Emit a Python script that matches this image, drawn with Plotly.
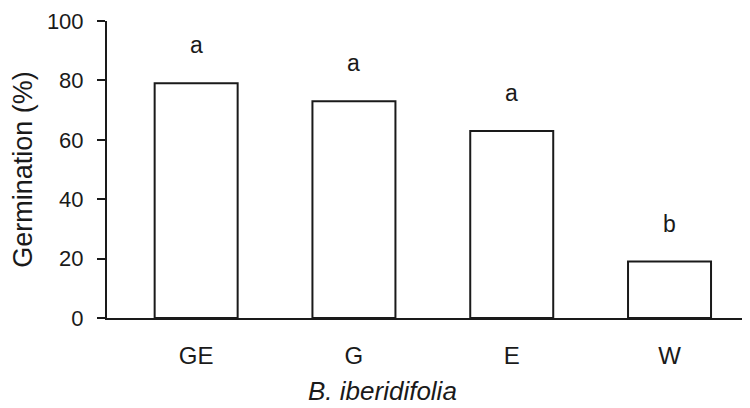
import plotly.graph_objects as go

# germination of B. iberidifolia seeds per treatment
treatments = ["GE", "G", "E", "W"]
germination = [79, 73, 63, 19]
letters = ["a", "a", "a", "b"]

INK = "#1a1a1a"
FONT = "Liberation Sans, Arial, sans-serif"

fig = go.Figure()

fig.add_trace(go.Bar(
    x=treatments,
    y=germination,
    marker=dict(color="white", line=dict(color=INK, width=2)),
    hoverinfo="skip",
))

# significance letters above each bar
for t, v, lab in zip(treatments, germination, letters):
    fig.add_annotation(
        x=t, y=v, text=lab, showarrow=False,
        yanchor="bottom", yshift=23,
        font=dict(family=FONT, size=23, color=INK),
    )

# species name as x title, sits left of the plot centre in the original
fig.add_annotation(
    xref="paper", yref="paper", x=0.429, y=-0.245,
    text="<i>B. iberidifolia</i>", showarrow=False,
    xanchor="center", yanchor="middle",
    font=dict(family=FONT, size=26, color=INK),
)

# page body has an 8px margin, so the figure is 8px smaller each way
fig.update_layout(
    width=742, height=400,
    margin=dict(l=99, r=0, t=13, b=90),
    plot_bgcolor="white", paper_bgcolor="white",
    bargap=0.474,
    showlegend=False,
    font=dict(family=FONT, color=INK),
    xaxis=dict(
        range=[-0.565, 3.51],
        showline=True, linecolor=INK, linewidth=2,
        showgrid=False, zeroline=False, ticks="",
        tickfont=dict(size=24),
        ticklabelstandoff=15,
    ),
    yaxis=dict(
        range=[0, 100], dtick=20,
        showline=True, linecolor=INK, linewidth=2,
        showgrid=False, zeroline=False,
        ticks="outside", ticklen=8, tickwidth=2, tickcolor=INK,
        tickfont=dict(size=22),
        ticklabelstandoff=9,
        title=dict(text="Germination (%)", font=dict(size=27), standoff=6),
    ),
)

fig.write_html("out.html")
